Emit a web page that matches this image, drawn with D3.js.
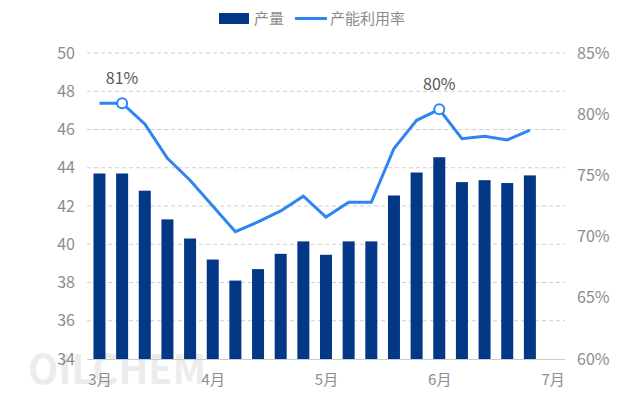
<!DOCTYPE html>
<html>
<head>
<meta charset="utf-8">
<script src="https://cdn.jsdelivr.net/npm/d3@7"></script>
<style>
  body { margin: 0; background: #fff; }
  text { font-family: "Noto Sans CJK SC", "Noto Sans", sans-serif; }
</style>
</head>
<body>
<div id="chart"></div>
<script>
// weekly output (left axis) and capacity utilisation % (right axis)
var output = [43.7, 43.7, 42.8, 41.3, 40.3, 39.2, 38.1, 38.7, 39.5, 40.15,
              39.45, 40.15, 40.15, 42.55, 43.75, 44.55, 43.25, 43.35, 43.2, 43.6];
var rate = [80.9, 80.9, 79.2, 76.4, 74.6, 72.5, 70.4, 71.2, 72.1, 73.3,
            71.6, 72.8, 72.8, 77.2, 79.5, 80.4, 78.0, 78.2, 77.9, 78.7];
var monthLabels = ["3月", "4月", "5月", "6月", "7月"];
var monthIndex = [0, 5, 10, 15, 20];
var leftTicks = [34, 36, 38, 40, 42, 44, 46, 48, 50];
var rightTicks = [60, 65, 70, 75, 80, 85];
var marked = [{ i: 1, label: "81%" }, { i: 15, label: "80%" }];

var svgWidth = 631;
var svgHeight = 416;

var margin = { top: 53, bottom: 57, left: 87, right: 66 };
var width = svgWidth - margin.left - margin.right;
var height = svgHeight - margin.top - margin.bottom;

var svg = d3.select("#chart")
    .append("svg")
    .attr("width", svgWidth)
    .attr("height", svgHeight);

// watermark
svg.append("text")
    .attr("x", 28)
    .attr("y", 384)
    .attr("font-size", 40)
    .attr("font-weight", "bold")
    .attr("fill", "#ececec")
    .attr("font-family", "Liberation Sans, sans-serif")
    .attr("textLength", 178)
    .attr("lengthAdjust", "spacingAndGlyphs")
    .text("OILCHEM");

var chartGroup = svg.append("g")
    .attr("transform", `translate(${margin.left}, ${margin.top})`);

var x = d3.scaleLinear()
    .domain([-0.55, 20.55])
    .range([0, width]);

var yLeft = d3.scaleLinear()
    .domain([34, 50])
    .range([height, 0]);

var yRight = d3.scaleLinear()
    .domain([60, 85])
    .range([height, 0]);

// gridlines
chartGroup.append("g")
    .selectAll("line")
    .data(leftTicks.slice(1))
    .enter()
    .append("line")
    .attr("x1", 0)
    .attr("x2", width)
    .attr("y1", d => yLeft(d))
    .attr("y2", d => yLeft(d))
    .attr("stroke", "#cfcfcf")
    .attr("stroke-dasharray", "4,3");

// left axis
var leftAxis = d3.axisLeft(yLeft).tickValues(leftTicks).tickSize(0).tickPadding(12);
chartGroup.append("g")
    .call(leftAxis)
    .call(g => g.select(".domain").remove())
    .selectAll("text")
    .attr("fill", "#8c8c8c")
    .attr("font-size", 16);

// right axis
var rightAxis = d3.axisRight(yRight).tickValues(rightTicks).tickSize(0).tickPadding(12)
    .tickFormat(d => d + "%");
chartGroup.append("g")
    .attr("transform", `translate(${width}, 0)`)
    .call(rightAxis)
    .call(g => g.select(".domain").remove())
    .selectAll("text")
    .attr("fill", "#8c8c8c")
    .attr("font-size", 16);

// bars
var barWidth = 12;
chartGroup.selectAll(".bar")
    .data(output)
    .enter()
    .append("rect")
    .attr("class", "bar")
    .attr("x", (d, i) => x(i) - barWidth / 2)
    .attr("y", d => yLeft(d))
    .attr("width", barWidth)
    .attr("height", d => height - yLeft(d))
    .attr("fill", "#023886");

// bottom axis
var bottomAxis = d3.axisBottom(x).tickValues(monthIndex).tickSize(0).tickPadding(15)
    .tickFormat((d, i) => monthLabels[i]);
chartGroup.append("g")
    .attr("transform", `translate(0, ${height})`)
    .call(bottomAxis)
    .call(g => g.select(".domain").attr("stroke", "#cccccc").attr("d", `M0,0.5H${width}`))
    .selectAll("text")
    .attr("fill", "#8c8c8c")
    .attr("font-size", 15);

// utilisation line
var line = d3.line()
    .x((d, i) => x(i))
    .y(d => yRight(d));

chartGroup.append("path")
    .datum(rate)
    .attr("d", line)
    .attr("fill", "none")
    .attr("stroke", "#2f84f3")
    .attr("stroke-width", 3);

chartGroup.selectAll(".mark")
    .data(marked)
    .enter()
    .append("circle")
    .attr("cx", d => x(d.i))
    .attr("cy", d => yRight(rate[d.i]))
    .attr("r", 5)
    .attr("fill", "#fff")
    .attr("stroke", "#2f84f3")
    .attr("stroke-width", 2);

chartGroup.selectAll(".markLabel")
    .data(marked)
    .enter()
    .append("text")
    .attr("x", d => x(d.i))
    .attr("y", d => yRight(rate[d.i]) - 19)
    .attr("text-anchor", "middle")
    .attr("font-size", 16)
    .attr("fill", "#555")
    .text(d => d.label);

// legend
var legend = svg.append("g");
legend.append("rect")
    .attr("x", 219).attr("y", 13)
    .attr("width", 30).attr("height", 11)
    .attr("fill", "#023886");
legend.append("text")
    .attr("x", 254).attr("y", 24)
    .attr("font-size", 15).attr("fill", "#8c8c8c")
    .text("产量");
legend.append("line")
    .attr("x1", 295).attr("x2", 327)
    .attr("y1", 18.5).attr("y2", 18.5)
    .attr("stroke", "#2f84f3").attr("stroke-width", 3);
legend.append("text")
    .attr("x", 330).attr("y", 24)
    .attr("font-size", 15).attr("fill", "#8c8c8c")
    .text("产能利用率");
</script>
</body>
</html>
